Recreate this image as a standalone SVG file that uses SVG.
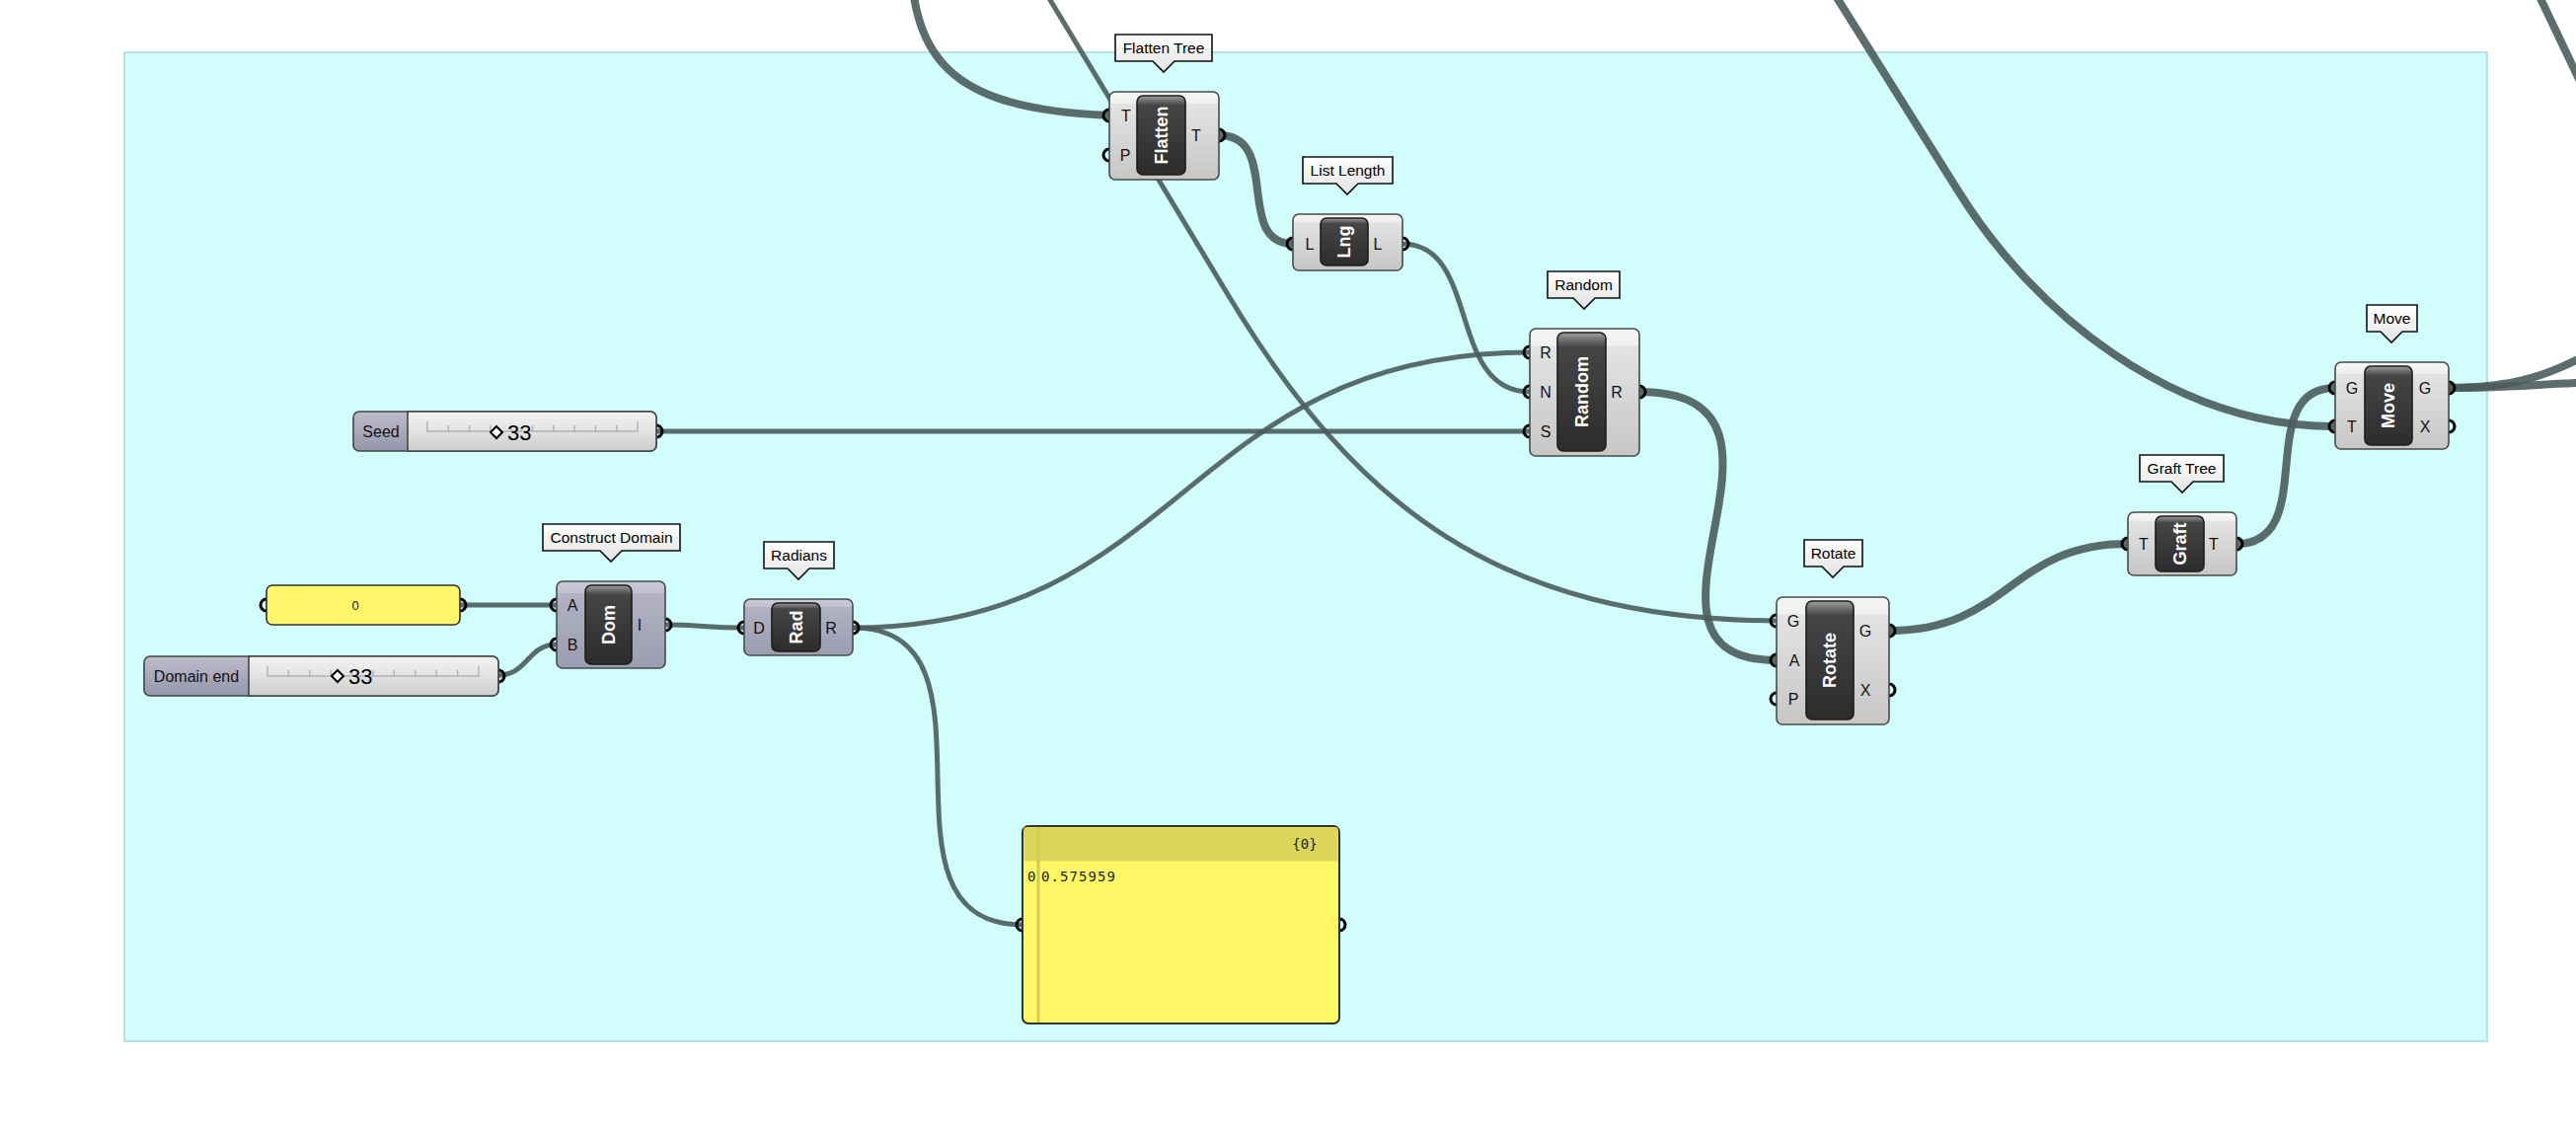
<svg xmlns="http://www.w3.org/2000/svg" width="2610" height="1152" viewBox="0 0 2610 1152">
<defs>
<linearGradient id="gComp" x1="0" y1="0" x2="0" y2="1">
<stop offset="0" stop-color="#f6f6f6"/><stop offset="0.13" stop-color="#f0f0f0"/><stop offset="0.14" stop-color="#e3e3e3"/><stop offset="1" stop-color="#c6c6c6"/>
</linearGradient>
<linearGradient id="gCompB" x1="0" y1="0" x2="0" y2="1">
<stop offset="0" stop-color="#cacad8"/><stop offset="0.13" stop-color="#c2c2d0"/><stop offset="0.14" stop-color="#b2b2c4"/><stop offset="1" stop-color="#9c9cb0"/>
</linearGradient>
<linearGradient id="gBtn" x1="0" y1="0" x2="0" y2="1">
<stop offset="0" stop-color="#a0a0a0"/><stop offset="0.06" stop-color="#707070"/><stop offset="0.12" stop-color="#454545"/><stop offset="1" stop-color="#2c2c2c"/>
</linearGradient>
<linearGradient id="gLbl" x1="0" y1="0" x2="0" y2="1">
<stop offset="0" stop-color="#ffffff"/><stop offset="1" stop-color="#e2e2e2"/>
</linearGradient>
<linearGradient id="gSld" x1="0" y1="0" x2="0" y2="1">
<stop offset="0" stop-color="#f2f2f2"/><stop offset="0.35" stop-color="#e8e8e8"/><stop offset="1" stop-color="#cdcdcd"/>
</linearGradient>
<linearGradient id="gSldN" x1="0" y1="0" x2="0" y2="1">
<stop offset="0" stop-color="#bcbccc"/><stop offset="1" stop-color="#9696aa"/>
</linearGradient>
</defs>
<style>
.wire{fill:none;stroke:#4b5c5c;stroke-opacity:.9}
.thin{stroke-width:5}
.thick{stroke-width:8}
.grip{fill:none;stroke:#000;stroke-width:3}
.comp{fill:url(#gComp);stroke:#4a4a4a;stroke-width:1.6}
.compB{fill:url(#gCompB);stroke:#4a4a4a;stroke-width:1.6}
.btn{fill:url(#gBtn);stroke:#1c1c1c;stroke-width:1.6}
.port{font-family:"Liberation Sans",Arial,sans-serif;font-size:16px;fill:#111;text-anchor:middle;dominant-baseline:central}
.btxt{font-family:"Liberation Sans",Arial,sans-serif;font-size:18px;font-weight:bold;fill:#fff;text-anchor:middle;dominant-baseline:central}
.lbl{fill:url(#gLbl);stroke:#111;stroke-width:1.6}
.ltxt{font-family:"Liberation Sans",Arial,sans-serif;font-size:15.5px;fill:#000;text-anchor:middle;dominant-baseline:central}
.sld{fill:url(#gSld);stroke:#444;stroke-width:1.6}
.sldn{fill:url(#gSldN);stroke:#444;stroke-width:1.6}
.stxt{font-family:"Liberation Sans",Arial,sans-serif;font-size:16px;fill:#111;text-anchor:middle;dominant-baseline:central}
.val{font-family:"Liberation Sans",Arial,sans-serif;font-size:22px;fill:#000}
.rail{stroke:#b4b4b4;stroke-width:1.5;fill:none}
.dia{fill:#fff;stroke:#000;stroke-width:2}
.mono{font-family:"DejaVu Sans Mono","Liberation Mono",monospace;font-size:14px;fill:#222}
</style>
<rect width="2610" height="1152" fill="#ffffff"/>
<rect id="group" x="126" y="53" width="2394" height="1002" fill="#d2fdfd" stroke="#a8d8d8" stroke-width="1.5"/>

<g id="connectors">
<path class="wire thick" d="M 922 -60 C 922 60, 960 110, 1124 117"/>
<path class="wire thin" d="M 1058 -10 L 1245 300 C 1375 515, 1520 627, 1800 629"/>
<path class="wire thick" d="M 1661 397 C 1860 397, 1620 669, 1800 669"/>
<path class="wire thick" d="M 1914 639 C 2036 639, 2036 551, 2156 551"/>
<path class="wire thick" d="M 2266 551 C 2352 551, 2281 393, 2366 393"/>
<path class="wire thick" d="M 1850 -20 L 1985 195 C 2060 315, 2200 432, 2366 432"/>
<path class="wire thick" d="M 2570 -10 L 2620 95"/>
<path class="wire thick" d="M 2481 393 C 2560 393, 2590 375, 2640 350"/>
<path class="wire thick" d="M 2481 393 C 2550 393, 2580 388, 2640 387"/>
<path class="wire thick" d="M 1235 137 C 1299 137, 1250 247, 1310 247"/>
<path class="wire thin" d="M 1421 247 C 1500 247, 1466 397, 1550 397"/>
<path class="wire thin" d="M 664 437 H 1550"/>
<path class="wire thin" d="M 864 636 C 1200 636, 1200 357, 1550 357"/>
<path class="wire thin" d="M 864 636 C 1030 636, 870 937, 1036 937"/>
<path class="wire thin" d="M 505 684 C 535 684, 534 653, 564 653"/>
<path class="wire thin" d="M 466 613 H 564"/>
<path class="wire thin" d="M 674 633 C 710 633, 715 636, 754 636"/>
</g>

<g id="flatten">
<path class="lbl" d="M 1130 35 H 1228 V 62 H 1190 L 1179 73 L 1168 62 H 1130 Z"/>
<text class="ltxt" x="1179" y="48.5">Flatten Tree</text>
<circle class="grip" cx="1124" cy="117" r="6"/><circle class="grip" cx="1124" cy="157" r="6"/><circle class="grip" cx="1235" cy="137" r="6"/>
<rect class="comp" x="1124" y="93" width="111" height="89" rx="6"/>
<rect class="btn" x="1152" y="97" width="49" height="80" rx="6"/>
<text class="btxt" x="1176.5" y="137" transform="rotate(-90 1176.5 137)">Flatten</text>
<text class="port" x="1141" y="117">T</text><text class="port" x="1140" y="157">P</text><text class="port" x="1212" y="137">T</text>
</g>

<g id="listlength">
<path class="lbl" d="M 1320 159 H 1411 V 186 H 1376 L 1365 197 L 1354 186 H 1320 Z"/>
<text class="ltxt" x="1365.5" y="172.5">List Length</text>
<circle class="grip" cx="1310" cy="247" r="6"/><circle class="grip" cx="1421" cy="247" r="6"/>
<rect class="comp" x="1310" y="217" width="111" height="57" rx="6"/>
<rect class="btn" x="1338" y="221" width="48" height="48" rx="6"/>
<text class="btxt" x="1362" y="245" transform="rotate(-90 1362 245)">Lng</text>
<text class="port" x="1327" y="247">L</text><text class="port" x="1396" y="247">L</text>
</g>

<g id="random">
<path class="lbl" d="M 1568 275 H 1641 V 302 H 1616 L 1605 313 L 1594 302 H 1568 Z"/>
<text class="ltxt" x="1604.5" y="288.5">Random</text>
<circle class="grip" cx="1550" cy="357" r="6"/><circle class="grip" cx="1550" cy="397" r="6"/><circle class="grip" cx="1550" cy="437" r="6"/><circle class="grip" cx="1661" cy="397" r="6"/>
<rect class="comp" x="1550" y="333" width="111" height="129" rx="6"/>
<rect class="btn" x="1578" y="337" width="49" height="120" rx="6"/>
<text class="btxt" x="1602.5" y="397" transform="rotate(-90 1602.5 397)">Random</text>
<text class="port" x="1566" y="357">R</text><text class="port" x="1566" y="397">N</text><text class="port" x="1566" y="437">S</text><text class="port" x="1638" y="397">R</text>
</g>

<g id="seed">
<circle class="grip" cx="665" cy="437" r="6"/>
<rect class="sldn" x="358" y="417" width="307" height="40" rx="6"/>
<path class="sld" d="M 413 417 H 659 A 6 6 0 0 1 665 423 V 451 A 6 6 0 0 1 659 457 H 413 Z"/>
<text class="stxt" x="386" y="437">Seed</text>
<path class="rail" d="M 433 437 H 646 M 433 427 V 438 M 646 427 V 438 M 454.3 431 V 438 M 475.6 431 V 438 M 496.9 431 V 438 M 518.2 431 V 438 M 539.5 431 V 438 M 560.8 431 V 438 M 582.1 431 V 438 M 603.4 431 V 438 M 624.7 431 V 438"/>
<polygon class="dia" points="503,432 509,438 503,444 497,438"/>
<text class="val" x="514" y="446">33</text>
</g>

<g id="domainend">
<circle class="grip" cx="505" cy="685" r="6"/>
<rect class="sldn" x="146" y="665" width="359" height="40" rx="6"/>
<path class="sld" d="M 252 665 H 499 A 6 6 0 0 1 505 671 V 699 A 6 6 0 0 1 499 705 H 252 Z"/>
<text class="stxt" x="199" y="685">Domain end</text>
<path class="rail" d="M 271 685 H 485 M 271 675 V 686 M 485 675 V 686 M 292.4 679 V 686 M 313.8 679 V 686 M 335.2 679 V 686 M 356.6 679 V 686 M 378 679 V 686 M 399.4 679 V 686 M 420.8 679 V 686 M 442.2 679 V 686 M 463.6 679 V 686"/>
<polygon class="dia" points="342,679 348,685 342,691 336,685"/>
<text class="val" x="353" y="693">33</text>
</g>

<g id="panel0">
<circle class="grip" cx="270" cy="613" r="6"/><circle class="grip" cx="466" cy="613" r="6"/>
<rect x="270" y="593" width="196" height="40" rx="6" fill="#fff66a" stroke="#333" stroke-width="1.6"/>
<text x="360" y="613" font-family="Liberation Sans, Arial, sans-serif" font-size="13" fill="#222" text-anchor="middle" dominant-baseline="central">0</text>
</g>

<g id="constructdomain">
<path class="lbl" d="M 550 531 H 689 V 558 H 630 L 619 569 L 608 558 H 550 Z"/>
<text class="ltxt" x="619.5" y="544.5">Construct Domain</text>
<circle class="grip" cx="564" cy="613" r="6"/><circle class="grip" cx="564" cy="653" r="6"/><circle class="grip" cx="674" cy="633" r="6"/>
<rect class="compB" x="564" y="589" width="110" height="88" rx="6"/>
<rect class="btn" x="593" y="593" width="47" height="80" rx="6"/>
<text class="btxt" x="616.5" y="633" transform="rotate(-90 616.5 633)">Dom</text>
<text class="port" x="580" y="613">A</text><text class="port" x="580" y="653">B</text><text class="port" x="648" y="633">I</text>
</g>

<g id="radians">
<path class="lbl" d="M 774 549 H 845 V 576 H 820 L 809 587 L 798 576 H 774 Z"/>
<text class="ltxt" x="809.5" y="562.5">Radians</text>
<circle class="grip" cx="754" cy="636" r="6"/><circle class="grip" cx="864" cy="636" r="6"/>
<rect class="compB" x="754" y="607" width="110" height="57" rx="6"/>
<rect class="btn" x="782" y="611" width="49" height="49" rx="6"/>
<text class="btxt" x="806.5" y="635.5" transform="rotate(-90 806.5 635.5)">Rad</text>
<text class="port" x="769" y="636">D</text><text class="port" x="842" y="636">R</text>
</g>

<g id="rotate">
<path class="lbl" d="M 1828 547 H 1887 V 574 H 1868 L 1857 585 L 1846 574 H 1828 Z"/>
<text class="ltxt" x="1857.5" y="560.5">Rotate</text>
<circle class="grip" cx="1800" cy="629" r="6"/><circle class="grip" cx="1800" cy="669" r="6"/><circle class="grip" cx="1800" cy="708" r="6"/><circle class="grip" cx="1914" cy="639" r="6"/><circle class="grip" cx="1914" cy="699" r="6"/>
<rect class="comp" x="1800" y="605" width="114" height="129" rx="6"/>
<rect class="btn" x="1830" y="609" width="48" height="120" rx="6"/>
<text class="btxt" x="1854" y="669" transform="rotate(-90 1854 669)">Rotate</text>
<text class="port" x="1817" y="629">G</text><text class="port" x="1818" y="669">A</text><text class="port" x="1817" y="708">P</text><text class="port" x="1890" y="639">G</text><text class="port" x="1890" y="699">X</text>
</g>

<g id="graft">
<path class="lbl" d="M 2168 461 H 2253 V 488 H 2222 L 2211 499 L 2200 488 H 2168 Z"/>
<text class="ltxt" x="2210.5" y="474.5">Graft Tree</text>
<circle class="grip" cx="2156" cy="551" r="6"/><circle class="grip" cx="2266" cy="551" r="6"/>
<rect class="comp" x="2156" y="519" width="110" height="64" rx="6"/>
<rect class="btn" x="2184" y="523" width="49" height="56" rx="6"/>
<text class="btxt" x="2208.5" y="551" transform="rotate(-90 2208.5 551)">Graft</text>
<text class="port" x="2172" y="551">T</text><text class="port" x="2243" y="551">T</text>
</g>

<g id="move">
<path class="lbl" d="M 2398 309 H 2449 V 336 H 2434 L 2423 347 L 2412 336 H 2398 Z"/>
<text class="ltxt" x="2423.5" y="322.5">Move</text>
<circle class="grip" cx="2366" cy="393" r="6"/><circle class="grip" cx="2366" cy="432" r="6"/><circle class="grip" cx="2481" cy="393" r="6"/><circle class="grip" cx="2481" cy="432" r="6"/>
<rect class="comp" x="2366" y="367" width="115" height="88" rx="6"/>
<rect class="btn" x="2396" y="371" width="48" height="80" rx="6"/>
<text class="btxt" x="2420" y="411" transform="rotate(-90 2420 411)">Move</text>
<text class="port" x="2383" y="393">G</text><text class="port" x="2383" y="432">T</text><text class="port" x="2457" y="393">G</text><text class="port" x="2457" y="432">X</text>
</g>

<g id="panel">
<circle class="grip" cx="1036" cy="937" r="6"/><circle class="grip" cx="1357" cy="937" r="6"/>
<rect x="1036" y="837" width="321" height="200" rx="6" fill="#fff866" stroke="#333" stroke-width="2"/>
<rect x="1037.5" y="838.5" width="318" height="34" fill="#ddd45a"/>
<line x1="1052" y1="838.5" x2="1052" y2="1036" stroke="#d2c956" stroke-width="3"/>
<text class="mono" x="1322" y="855" text-anchor="middle" dominant-baseline="central">{0}</text>
<text class="mono" x="1041" y="888" dominant-baseline="central">0</text>
<text class="mono" x="1055" y="888" dominant-baseline="central" textLength="75">0.575959</text>
</g>
</svg>
